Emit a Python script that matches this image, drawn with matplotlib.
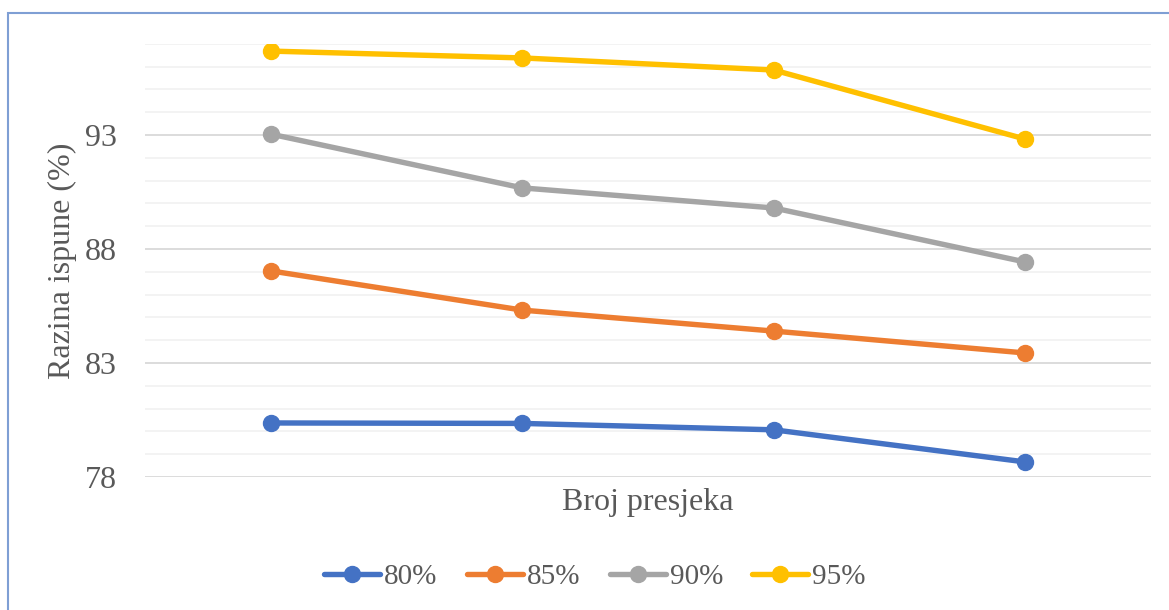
import numpy as np
import matplotlib.pyplot as plt
from matplotlib.patches import Rectangle

presjeci = [1, 2, 3, 4]
serije = ["80%", "85%", "90%", "95%"]
v80 = [80.37, 80.35, 80.07, 78.66]
v85 = [87.04, 85.32, 84.40, 83.44]
v90 = [93.04, 90.68, 89.80, 87.43]
v95 = [96.68, 96.38, 95.85, 92.82]
boje = ["#4472C4", "#ED7D31", "#A5A5A5", "#FFC000"]
major_ticks = [78, 83, 88, 93]

plt.rcParams["font.family"] = ["Liberation Serif", "DejaVu Serif"]
txt = "#595959"

fig = plt.figure(figsize=(11.69, 6.10), dpi=100)
ax = fig.add_axes([145 / 1169, 1 - 477 / 610, 1006 / 1169, (477 - 43.8) / 610])

# minor + major grid
for y in range(78, 98):
    c = "#D9D9D9" if y in major_ticks else "#F2F2F2"
    ax.axhline(y, color=c, lw=1.3, zorder=0)

for vals, name, c in zip([v80, v85, v90, v95], serije, boje):
    ax.plot(presjeci, vals, color=c, lw=3.9, marker="o", ms=11.5,
            solid_capstyle="round", label=name, zorder=3)

ax.set_xlim(0.5, 4.5)
ax.set_ylim(78, 97)
ax.set_yticks(major_ticks)
ax.set_xticks([])
ax.tick_params(axis="y", length=0, pad=20, labelsize=23, labelcolor=txt)
for s in ax.spines.values():
    s.set_visible(False)

ax.set_ylabel("Razina ispune (%)", fontsize=23, color=txt)
ax.yaxis.set_label_coords(-0.068, 0.5)
ax.set_xlabel("Broj presjeka", fontsize=23, color=txt, labelpad=8)

leg = fig.legend(loc="center", bbox_to_anchor=(595 / 1169, 1 - 577 / 610),
                 ncol=4, frameon=False, fontsize=21, handlelength=1.92,
                 handletextpad=0.14, columnspacing=1.0, labelcolor=txt)

# chart frame
fig.patches.append(Rectangle((8 / 1169, -0.01), 1.02, 1 - 13 / 610 + 0.01,
                             transform=fig.transFigure, fill=False,
                             edgecolor="#7F9FD4", lw=1.5))

fig.savefig("out.png", dpi=100)
